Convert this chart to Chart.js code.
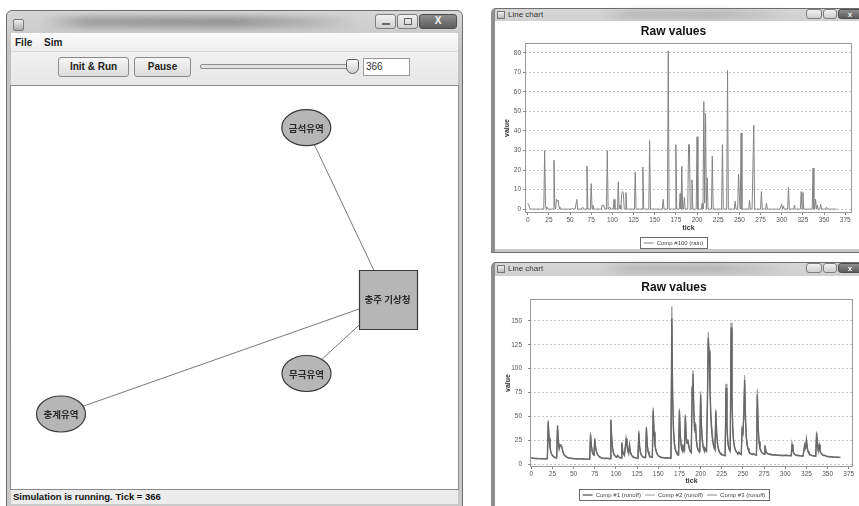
<!DOCTYPE html>
<html>
<head>
<meta charset="utf-8">
<script src="https://cdn.jsdelivr.net/npm/chart.js@4.4.1/dist/chart.umd.min.js"></script>
<style>
  html, body { margin: 0; padding: 0; background: #fff; }
  body { width: 859px; height: 506px; position: relative; overflow: hidden;
         font-family: "Liberation Sans", Arial, sans-serif; }
  .a { position: absolute; box-sizing: border-box; }
  .frame { background: linear-gradient(#d6d6d6, #c4c4c4 40px, #c9c9c9); border: 1px solid #6e6e6e; }
  .blurband { background: linear-gradient(90deg, rgba(120,120,120,0), rgba(120,120,120,.55) 15%, rgba(110,110,110,.6) 60%, rgba(130,130,130,.35) 85%, rgba(140,140,140,0));
              filter: blur(3px); }
  .wbtn { border: 1px solid #7c7c7c; border-radius: 3px; background: linear-gradient(#f2f2f2, #cfcfcf); }
  .wclose { border: 1px solid #4e4e4e; border-radius: 3px; background: linear-gradient(#8e8e8e, #5c5c5c); color: #f4f4f4;
            font: bold 10px "Liberation Sans", Arial, sans-serif; text-align: center; line-height: 12px; }
  .btn { border: 1px solid #8a8a8a; border-radius: 3px; background: linear-gradient(#f6f6f6, #dcdcdc);
         font: bold 10px "Liberation Sans", Arial, sans-serif; color: #222; text-align: center; }
  canvas { position: absolute; }
</style>
</head>
<body>

<!-- simulator window -->
<div class="a frame" style="left:6px;top:10px;width:457px;height:510px;border-radius:6px 6px 0 0;"></div>
<div class="a blurband" style="left:40px;top:16px;width:320px;height:12px;"></div>
<div class="a" style="left:13px;top:19px;width:11px;height:12px;border:1px solid #7a7a7a;background:linear-gradient(#eee,#aaa);border-radius:2px;"></div>
<div class="a wbtn" style="left:375px;top:14px;width:21px;height:15px;"><div class="a" style="left:6px;top:8px;width:8px;height:2px;background:#666;"></div></div>
<div class="a wbtn" style="left:397px;top:14px;width:21px;height:15px;"><div class="a" style="left:6px;top:3px;width:8px;height:7px;border:1px solid #666;"></div></div>
<div class="a wclose" style="left:419px;top:14px;width:38px;height:15px;">X</div>

<div class="a" style="left:11px;top:33px;width:447px;height:19px;background:linear-gradient(#fbfbfb,#eeeeee);border-bottom:1px solid #d8d8d8;"></div>
<div class="a" style="left:15px;top:37px;font:bold 10px 'Liberation Sans',Arial,sans-serif;color:#222;">File</div>
<div class="a" style="left:44px;top:37px;font:bold 10px 'Liberation Sans',Arial,sans-serif;color:#222;">Sim</div>

<div class="a" style="left:11px;top:52px;width:447px;height:34px;background:linear-gradient(#f1f1f1,#e6e6e6);"></div>
<div class="a btn" style="left:58px;top:57px;width:71px;height:20px;line-height:18px;">Init &amp; Run</div>
<div class="a btn" style="left:134px;top:57px;width:57px;height:20px;line-height:18px;">Pause</div>
<div class="a" style="left:200px;top:64px;width:150px;height:5px;border:1px solid #8c8c8c;border-radius:2px;background:#e2e2e2;"></div>
<div class="a" style="left:346px;top:59px;width:13px;height:15px;border:1px solid #5e5e5e;border-radius:3px 3px 7px 7px;background:linear-gradient(#fafafa,#cfcfcf);"></div>
<div class="a" style="left:363px;top:58px;width:47px;height:18px;border:1px solid #9a9a9a;background:#fff;font:10px 'Liberation Sans',Arial,sans-serif;color:#333;padding:2px 0 0 2px;">366</div>

<div class="a" style="left:11px;top:86px;width:447px;height:403px;background:#fff;"></div>
<canvas id="net" width="446" height="403" style="left:11px;top:86px;"></canvas>
<div class="a" style="left:10px;top:85px;width:449px;height:405px;border:1px solid #8a8a8a;"></div>

<div class="a" style="left:11px;top:490px;width:447px;height:14px;background:#ececec;"></div>
<div class="a" style="left:13px;top:491px;font:bold 9.5px 'Liberation Sans',Arial,sans-serif;color:#111;white-space:nowrap;">Simulation is running. Tick = 366</div>

<!-- upper chart window -->
<div class="a frame" style="left:491px;top:8px;width:372px;height:245px;border-radius:5px 0 0 0;border-left:4px solid #8e8e8e;"></div>
<div class="a blurband" style="left:600px;top:10px;width:190px;height:9px;opacity:.5;"></div>
<div class="a" style="left:497px;top:11px;width:8px;height:8px;border:1px solid #777;background:linear-gradient(#eee,#bbb);"></div>
<div class="a" style="left:508px;top:10px;font:8px 'Liberation Sans',Arial,sans-serif;color:#333;">Line chart</div>
<div class="a wbtn" style="left:806px;top:9px;width:16px;height:10px;"></div>
<div class="a wbtn" style="left:823px;top:9px;width:14px;height:10px;"></div>
<div class="a wclose" style="left:838px;top:9px;width:24px;height:10px;line-height:9px;font-size:8px;">x</div>
<div class="a" style="left:495px;top:21px;width:364px;height:228px;background:#fff;"></div>
<canvas id="rainChart" width="361" height="235" style="left:495px;top:21px;"></canvas>

<!-- lower chart window -->
<div class="a frame" style="left:491px;top:262px;width:372px;height:250px;border-radius:5px 0 0 0;border-left:4px solid #8e8e8e;"></div>
<div class="a blurband" style="left:600px;top:264px;width:190px;height:9px;opacity:.5;"></div>
<div class="a" style="left:497px;top:265px;width:8px;height:8px;border:1px solid #777;background:linear-gradient(#eee,#bbb);"></div>
<div class="a" style="left:508px;top:264px;font:8px 'Liberation Sans',Arial,sans-serif;color:#333;">Line chart</div>
<div class="a wbtn" style="left:806px;top:263px;width:16px;height:10px;"></div>
<div class="a wbtn" style="left:823px;top:263px;width:14px;height:10px;"></div>
<div class="a wclose" style="left:838px;top:263px;width:24px;height:10px;line-height:9px;font-size:8px;">x</div>
<div class="a" style="left:495px;top:276px;width:364px;height:232px;background:#fff;"></div>
<canvas id="runoffChart" width="361" height="232" style="left:495px;top:276px;"></canvas>

<script>
// ---- network: basins linked to the weather station ----
const nodeNames = ['금석유역', '충주 기상청', '무극유역', '충계유역'];
const nodeKinds = ['basin', 'station', 'basin', 'basin'];
const nodeX = [295.3, 376.5, 295.5, 50];
const nodeY = [41.7, 213, 287.5, 328];
const links = [[0, 1], [3, 1], [2, 1]];

// ---- daily series, tick 0..365 ----
const rainLabel = 'Comp #100 (rain)';
const rain = [
  3,2.5,1,0,0,0,0,0,0,0,
  0,0,0,0,0,0,0,0,0,0,
  30,2,0,1,0,0,0,0,0,0,
  0,25,2,0,5,4,4.5,1,0,0,
  0,0,0,0,0,0,0,0,0,0,
  0,0,0,0.5,0,0,0,0,5,0,
  0,0,0,0,0,1,0,0,0,0,
  22,0,0,0,0,13,0,2,0,0,
  0,0,0,0,0,0,0,0,2,2,
  1.5,0,0,0,30,0,0,1,0,0,
  0,0,5,0,0,0,0,14,0,2,
  0,8,9,8,0,0,8.5,0,0,0,
  0,0,0,0,0,0,0,19,0,0,
  0,0,0,0,0,0,21.5,0,0,0,
  0,0,0,0,35,0,0,0,0,0,
  0,0,0,0,0,0,0,0,0,0,
  5,0,0,0,0,0,81,0,0,0,
  0,0,0,0,0,33,0,0,0,0,
  8,0,22,0,0,6,0,0,0,0,
  33,33,0,0,15,0,0,0,0,0,
  37,0,0,0,0,0,3,0,55,3,
  49,0,16,0,0,0,0,0,27,0,
  0,0,0,0,0,0,0,0,0,0,
  33,0,0,0,0,0,71,0,0,0,
  0,0,0,0,0,4,0,0,0,18,
  6,0,39,0,0,0,0,0,0,0,
  0,0,4.5,0,0,0,0,43,0,0,
  0,0,0,0,0,0,9,0,0,0,
  0,0,3,0,0,0,0,0,0,0,
  0,0,0,0,0,0,0,0,0,0,
  2.5,0,1.5,0,0,0,0,0,11,0,
  0,0,0,0,0,2,0,0,0,0,
  0,0,0,9,0,8.5,0,0,0,0,
  0,0,0,0,0,0,0,21,0,0,
  5,0,2,0,0,0,2.5,0,0,0,
  0,0,0,1,0,0,0,0,0,0,
  0,0,0,0,0,0
];

const runoffLabels = ['Comp #1 (runoff)', 'Comp #2 (runoff)', 'Comp #3 (runoff)'];
const runoff1 = [
  6.5,6.3,6.1,5.9,5.8,5.8,5.8,5.7,5.7,5.7,
  5.7,5.6,5.6,5.6,5.6,5.6,5.6,5.5,5.5,5.5,
  44,27,18,13,10.5,9,8,7.3,6.9,6.6,
  6.4,40,24,16,20,19,18,14,11,9.5,
  8.5,7.8,7.2,6.8,6.5,6.3,6.1,6,5.9,5.8,
  5.7,5.6,5.6,5.6,5.5,5.5,5.5,5.4,5.6,5.4,
  5.3,5.3,5.3,5.2,5.2,5.2,5.2,5.1,5.1,5.1,
  31,19,13,10.5,9.5,26,17,13,10.5,9,
  8,7.3,6.8,6.4,6.2,6,5.9,5.8,6,6,
  5.9,5.8,5.7,5.6,46,27,17,12,9.5,8.3,
  7.6,7.2,9,7.8,7,6.5,6.3,22,13,10.5,
  9,17,26,20,14,11,20,13,10,8.5,
  7.6,7.1,6.8,6.5,6.3,6.2,6.1,33,18,12,
  9.5,8.2,7.5,7.1,6.8,6.6,38,20,13,10,
  8.5,7.7,7.2,6.9,56,33,21,15,12,10,
  8.8,8,7.5,7.1,6.9,6.7,6.6,6.5,6.4,6.3,
  6.6,6.4,6.3,6.2,6.1,6,153,70,35,22,
  16,13,11,10,9.5,56,30,20,15,13,
  18,15,50,28,22,25,19,15,13,12,
  80,94,55,35,42,25,18,15,13.5,13,
  73,40,25,18,15,13.5,16,14,60,132,
  118,84,52,36,27,21,17,15,55,32,
  21,16,13,11.5,10.5,10,9.5,9.2,9,8.8,
  80,42,25,18,15,13.5,143,70,36,24,
  18,15,13,12,11,12.5,11,10.5,10,36,
  33,50,88,48,28,20,16,13.5,12,11,
  10.5,10,11,10.5,10,9.6,9.4,73,38,23,
  17,14,12.5,11.5,11,10.5,19,14,12,11,
  10.5,10,10.5,10,9.8,9.6,9.5,9.4,9.4,9.3,
  9.3,9.2,9.2,9.1,9.1,9,9,9,8.9,8.9,
  9.2,9,9.1,8.9,8.8,8.8,8.7,8.7,20,14,
  11.5,10.2,9.5,9.1,8.9,9.2,8.9,8.7,8.6,8.5,
  8.5,8.4,8.4,20,17,25.5,17,13,11,10,
  9.5,9,8.8,8.6,8.5,8.4,8.3,32.5,20,14,
  20,14,12,10.5,9.6,9,9.3,8.8,8.4,8.1,
  7.9,7.8,7.7,7.8,7.6,7.5,7.4,7.3,7.3,7.2,
  7.2,7.1,7.1,7,7,7
];
const runoff2 = [
  6.3,6.1,5.9,5.8,5.7,5.7,5.6,5.6,5.6,5.6,
  5.5,5.5,5.5,5.5,5.4,5.4,5.4,5.4,5.4,5.4,
  46,26,17,12.5,10,8.6,7.7,7,6.6,6.4,
  6.2,41,23,15.5,21,19.5,18,13.5,10.5,9,
  8.1,7.5,7,6.6,6.3,6.1,5.9,5.8,5.7,5.6,
  5.5,5.5,5.4,5.4,5.3,5.3,5.3,5.2,5.5,5.2,
  5.1,5.1,5.1,5,5,5,5,4.9,4.9,4.9,
  33,18,12.5,10,9,27,16.5,12.5,10,8.6,
  7.6,7,6.5,6.2,6,5.8,5.7,5.6,5.9,5.9,
  5.7,5.6,5.5,5.4,47,26,16,11.5,9,8,
  7.3,6.9,9.5,7.5,6.7,6.3,6.1,23,12.5,10,
  8.6,18,27,19,13.5,10.5,21,12.5,9.6,8.2,
  7.3,6.9,6.6,6.3,6.1,6,5.9,35,17,11.5,
  9,7.8,7.2,6.8,6.6,6.4,39,19,12.5,9.6,
  8.1,7.4,6.9,6.7,59,32,20,14.5,11.5,9.6,
  8.4,7.7,7.2,6.9,6.7,6.5,6.4,6.3,6.2,6.1,
  6.5,6.2,6.1,6,5.9,5.8,165,66,33,21,
  15,12.5,10.5,9.6,9.1,58,29,19,14.5,12.5,
  18.5,14.5,52,27,21,26,18,14.5,12.5,11.5,
  83,98,53,33,44,24,17,14.5,13,12.5,
  76,38,24,17,14.5,13,16.5,13.5,62,138,
  120,86,50,34,26,20,16.5,14.5,57,31,
  20,15.5,12.5,11,10,9.6,9.2,8.9,8.7,8.5,
  84,40,24,17,14.5,13,148,66,34,23,
  17,14.5,12.5,11.5,10.6,12.5,10.6,10.1,9.7,38,
  34,52,93,46,27,19,15.5,13,11.5,10.6,
  10.1,9.7,11,10.2,9.7,9.3,9.1,78,36,22,
  16.5,13.5,12,11,10.6,10.1,20,13.5,11.5,10.6,
  10.1,9.7,10.3,9.7,9.5,9.3,9.2,9.1,9.1,9,
  9,8.9,8.9,8.8,8.8,8.7,8.7,8.7,8.6,8.6,
  9,8.7,8.9,8.6,8.5,8.5,8.4,8.4,21,13.5,
  11,9.8,9.2,8.8,8.6,9,8.6,8.4,8.3,8.2,
  8.2,8.1,8.1,21,16.5,26,16.5,12.5,10.6,9.7,
  9.2,8.7,8.5,8.3,8.2,8.1,8,34,19,13.5,
  21,13.5,11.5,10.1,9.2,8.7,9.1,8.5,8.1,7.8,
  7.6,7.5,7.4,7.6,7.3,7.2,7.1,7,7,6.9,
  6.9,6.8,6.8,6.7,6.7,6.7
];
const runoff3 = [
  6.8,6.6,6.4,6.2,6.1,6,6,5.9,5.9,5.9,
  5.9,5.8,5.8,5.8,5.8,5.8,5.8,5.7,5.7,5.7,
  40,28,19,14,11,9.5,8.4,7.6,7.2,6.9,
  6.6,37,25,17,19,19,18.5,15,12,10,
  9,8.2,7.6,7.1,6.8,6.5,6.3,6.2,6.1,6,
  5.9,5.8,5.8,5.8,5.7,5.7,5.7,5.6,5.8,5.6,
  5.5,5.5,5.5,5.4,5.4,5.4,5.4,5.3,5.3,5.3,
  29,20,14,11,10,24,18,13.5,11,9.5,
  8.4,7.6,7.1,6.7,6.4,6.2,6.1,6,6.2,6.2,
  6.1,6,5.9,5.8,43,28,18,12.5,10,8.7,
  7.9,7.5,8.6,8.1,7.3,6.8,6.5,20,14,11,
  9.5,16,24,21,15,11.5,19,14,10.5,9,
  8,7.4,7.1,6.8,6.5,6.4,6.3,31,19,12.5,
  10,8.6,7.8,7.4,7.1,6.8,36,21,13.5,10.5,
  8.9,8,7.5,7.2,52,34,22,16,12.5,10.5,
  9.2,8.4,7.8,7.4,7.2,7,6.9,6.8,6.7,6.6,
  6.8,6.7,6.6,6.5,6.4,6.3,145,74,37,23,
  17,13.5,11.5,10.5,10,53,31,21,15.5,13.5,
  17.5,15.5,48,29,23,24,20,15.5,13.5,12.5,
  76,88,57,37,40,26,19,15.5,14,13.5,
  69,42,26,19,15.5,14,15.5,14.5,57,126,
  114,82,54,42,30,22,18,15.5,52,33,
  22,16.5,13.5,12,11,10.5,10,9.6,9.4,9.2,
  76,44,26,19,15.5,14,138,74,38,25,
  19,15.5,13.5,12.5,11.5,12.5,11.5,11,10.5,34,
  32,48,84,50,29,21,16.5,14,12.5,11.5,
  11,10.5,11,10.8,10.4,10,9.8,70,40,24,
  18,15,13,12,11.5,11,18,14.5,12.5,11.5,
  11,10.5,10.8,10.4,10.2,10,9.9,9.8,9.7,9.7,
  9.6,9.6,9.5,9.5,9.4,9.4,9.3,9.3,9.2,9.2,
  9.4,9.3,9.3,9.2,9.1,9.1,9,9,19,14.5,
  12,10.6,9.9,9.5,9.2,9.4,9.2,9,8.9,8.8,
  8.8,8.7,8.7,19,17.5,24,17.5,13.5,11.5,10.5,
  9.9,9.4,9.1,8.9,8.8,8.7,8.6,31,21,14.5,
  19,14.5,12.5,11,10,9.4,9.5,9.1,8.7,8.4,
  8.2,8.1,8,8,7.9,7.8,7.7,7.6,7.5,7.5,
  7.4,7.4,7.3,7.3,7.2,7.2
];

// axis tick labels
const tickLabelsX = [0, 25, 50, 75, 100, 125, 150, 175, 200, 225, 250, 275, 300, 325, 350, 375];
const tickLabelsRain = [0, 10, 20, 30, 40, 50, 60, 70, 80];
const tickLabelsRunoff = [0, 25, 50, 75, 100, 125, 150];

Chart.defaults.font.family = '"Liberation Sans", Arial, sans-serif';
Chart.defaults.animation = false;

const asPoints = vals => vals.map((v, i) => ({ x: i, y: v }));

// outline of the plot area
const plotFrame = {
  id: 'plotFrame',
  afterDatasetsDraw(chart) {
    const a = chart.chartArea, ctx = chart.ctx;
    ctx.save();
    ctx.strokeStyle = '#9a9a9a';
    ctx.lineWidth = 1;
    ctx.strokeRect(Math.round(a.left) + 0.5, Math.round(a.top) + 0.5,
                   Math.round(a.right - a.left) - 1, Math.round(a.bottom - a.top) - 1);
    ctx.restore();
  }
};

// box round the legend entries
const legendFrame = {
  id: 'legendFrame',
  afterDraw(chart) {
    const lg = chart.legend;
    if (!lg || !lg.legendHitBoxes || !lg.legendHitBoxes.length) return;
    let l = Infinity, r = -Infinity, t = Infinity, b = -Infinity;
    lg.legendHitBoxes.forEach(h => {
      l = Math.min(l, h.left); r = Math.max(r, h.left + h.width);
      t = Math.min(t, h.top); b = Math.max(b, h.top + h.height);
    });
    const ctx = chart.ctx;
    ctx.save();
    ctx.strokeStyle = '#6a6a6a';
    ctx.lineWidth = 1;
    ctx.strokeRect(Math.round(l - 4) + 0.5, Math.round(t - 3) + 0.5, Math.round(r - l + 7), Math.round(b - t + 5));
    ctx.restore();
  }
};

function rawValuesChart(id, datasets, yTicks, yMin, yMax, xMin, xMax, lay) {
  return new Chart(document.getElementById(id), {
    type: 'line',
    data: { datasets },
    plugins: [plotFrame, legendFrame],
    options: {
      responsive: false,
      animation: false,
      events: [],
      layout: { padding: { left: 0, right: lay.right, top: 0, bottom: 0 } },
      elements: { point: { radius: 0 }, line: { tension: 0 } },
      scales: {
        x: {
          type: 'linear', min: xMin, max: xMax,
          afterBuildTicks: s => { s.ticks = tickLabelsX.map(v => ({ value: v })); },
          afterFit: s => { s.height = lay.xH; },
          grid: { drawOnChartArea: false, drawTicks: true, tickLength: 2, color: '#8a8a8a' },
          border: { display: false },
          ticks: { font: { size: 6.5 }, color: '#555', padding: 1, maxRotation: 0, autoSkip: false },
          title: { display: true, text: 'tick', font: { size: 7, weight: 'bold' }, color: '#333',
                   padding: { top: 0, bottom: lay.xTitlePad } }
        },
        y: {
          min: yMin, max: yMax,
          afterBuildTicks: s => { s.ticks = yTicks.map(v => ({ value: v })); },
          afterFit: s => { s.width = lay.yW; },
          grid: { color: '#c6c6c6', tickColor: '#8a8a8a', tickLength: 2, tickBorderDash: [] },
          border: { display: false, dash: [2, 2] },
          ticks: { font: { size: 6.5 }, color: '#555', padding: lay.yTickPad, autoSkip: false },
          title: { display: true, text: 'value', font: { size: 7, weight: 'bold' }, color: '#333',
                   padding: { top: lay.yTitlePad, bottom: 0 } }
        }
      },
      plugins: {
        title: { display: true, text: 'Raw values', font: { size: 12, weight: 'bold' }, color: '#111',
                 padding: { top: lay.tTop, bottom: lay.tBottom } },
        legend: {
          position: 'bottom',
          labels: { usePointStyle: true, pointStyle: 'line', pointStyleWidth: 10, boxHeight: 6,
                    font: { size: 6 }, color: '#444', padding: 4 }
        },
        tooltip: { enabled: false }
      }
    }
  });
}

rawValuesChart('rainChart',
  [{ label: rainLabel, data: asPoints(rain), borderColor: '#838383', backgroundColor: '#838383', borderWidth: 1 }],
  tickLabelsRain, -2, 85, -3.2, 383,
  { right: 4, xH: 23, xTitlePad: 3.8, yW: 30, yTickPad: 2, yTitlePad: 8, tTop: 3, tBottom: 4.6 });

rawValuesChart('runoffChart',
  [
    { label: runoffLabels[0], data: asPoints(runoff1), borderColor: '#686868', backgroundColor: '#686868', borderWidth: 1.4 },
    { label: runoffLabels[1], data: asPoints(runoff2), borderColor: '#9c9c9c', backgroundColor: '#9c9c9c', borderWidth: 1 },
    { label: runoffLabels[2], data: asPoints(runoff3), borderColor: '#8a8a8a', backgroundColor: '#8a8a8a', borderWidth: 1 }
  ],
  tickLabelsRunoff, -3.1, 173, -1.5, 380,
  { right: 3, xH: 21, xTitlePad: 2.8, yW: 35, yTickPad: 6, yTitlePad: 9, tTop: 4, tBottom: 4.6 });

// ---- network diagram ----
const nodeStyle = {
  basin: { rx: 24.5, ry: 18 },
  station: { w: 58, h: 59 }
};
const nodeShapes = {
  id: 'nodeShapes',
  afterDatasetsDraw(chart) {
    const meta = chart.getDatasetMeta(chart.data.datasets.length - 1);
    const ctx = chart.ctx;
    ctx.save();
    meta.data.forEach((pt, i) => {
      const kind = nodeKinds[i];
      ctx.beginPath();
      if (kind === 'station') {
        const s = nodeStyle.station;
        ctx.rect(Math.round(pt.x - s.w / 2) + 0.5, Math.round(pt.y - s.h / 2) + 0.5, s.w, s.h);
      } else {
        const s = nodeStyle.basin;
        ctx.ellipse(pt.x, pt.y, s.rx, s.ry, 0, 0, Math.PI * 2);
      }
      ctx.fillStyle = '#b6b6b6';
      ctx.fill();
      ctx.strokeStyle = '#3a3a3a';
      ctx.lineWidth = 1.2;
      ctx.stroke();
      ctx.fillStyle = '#2a2a2a';
      ctx.font = 'bold 9.5px "Noto Sans CJK KR", "Noto Sans", sans-serif';
      ctx.textAlign = 'center';
      ctx.textBaseline = 'middle';
      ctx.fillText(nodeNames[i], pt.x, pt.y + 0.5);
    });
    ctx.restore();
  }
};

const linkSets = links.map(([a, b]) => ({
  data: [{ x: nodeX[a], y: nodeY[a] }, { x: nodeX[b], y: nodeY[b] }],
  showLine: true, borderColor: '#777', borderWidth: 1, pointRadius: 0
}));
const nodeSet = {
  data: nodeX.map((x, i) => ({ x, y: nodeY[i] })),
  showLine: false, pointRadius: 0
};

new Chart(document.getElementById('net'), {
  type: 'scatter',
  data: { datasets: [...linkSets, nodeSet] },
  plugins: [nodeShapes],
  options: {
    responsive: false,
    animation: false,
    events: [],
    layout: { padding: 0 },
    scales: {
      x: { type: 'linear', min: 0, max: 446, display: false },
      y: { type: 'linear', min: 0, max: 403, reverse: true, display: false }
    },
    plugins: { legend: { display: false }, tooltip: { enabled: false } }
  }
});
</script>
</body>
</html>
